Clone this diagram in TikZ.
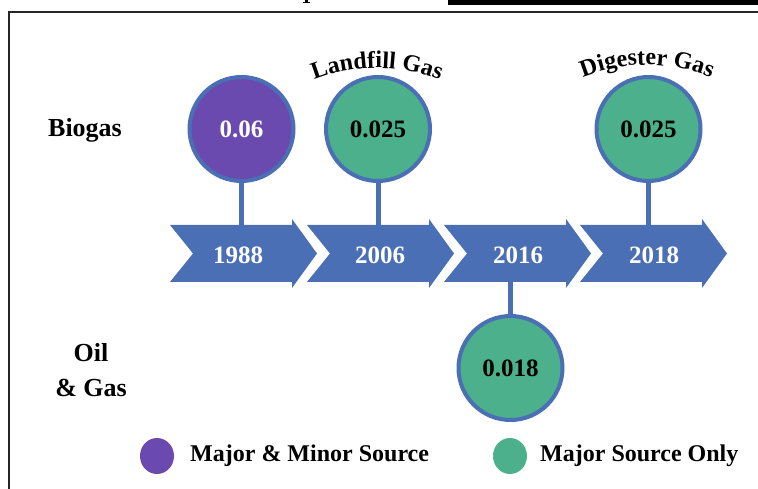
\documentclass[tikz,border=0pt]{standalone}
\usepackage{fontspec}
\setmainfont{Liberation Serif}
\usetikzlibrary{decorations.text,shapes.geometric}
\definecolor{tlblue}{HTML}{4A6FB5}
\definecolor{tlpurple}{HTML}{6A4AAE}
\definecolor{tlgreen}{HTML}{4BB08B}
\newcommand\mychevron[2]{%
  \fill[tlblue] (#1,225) -- ++(122,0) -- ++(0,-6) -- ++(25,34.5) -- ++(-25,34.5) -- ++(0,-6) -- ++(-122,0) -- ++(23,-28.5) -- cycle;
  \coordinate (#2) at (#1,225);}
\begin{document}
\begin{tikzpicture}[x=1pt,y=-1pt,
  val/.style={circle, draw=tlblue, line width=4pt, minimum size=104pt, inner sep=0pt, font=\fontsize{25}{30}\selectfont\bfseries},
  stem/.style={draw=tlblue, line width=5pt},
  yr/.style={text=white, font=\fontsize{25}{30}\selectfont\bfseries},
  lab/.style={font=\fontsize{26}{35}\selectfont\bfseries, align=center},
  leg/.style={font=\fontsize{24}{28}\selectfont\bfseries, anchor=west, inner sep=0pt},
  legdot/.style={ellipse, minimum width=34pt, minimum height=36pt, inner sep=0pt},
]
\useasboundingbox (0,0) rectangle (758,489);
\clip (0,0) rectangle (758,489);
% frame and top remnants
\draw[line width=2pt, black!85] (8.5,12.5) rectangle (800,520);
\fill[black] (448,0) rectangle (758,5);
\fill[black] (305,0) rectangle (307.5,3);
\fill[black] (302.5,2) rectangle (310,3.2);
% chevrons
\mychevron{170}{k1}
\mychevron{307}{k2}
\mychevron{444}{k3}
\mychevron{580}{k4}
\node[yr] (y1) at (238,255) {1988};
\node[yr] (y2) at (380,255) {2006};
\node[yr] (y3) at (518,255) {2016};
\node[yr] (y4) at (654,255) {2018};
% stems
\coordinate (s1) at (241.5,226);
\coordinate (s2) at (378,226);
\coordinate (s3) at (510.5,281);
\coordinate (s4) at (648.5,226);
% circles
\node[val, fill=tlpurple, text=white] (c1) at (241.5,129) {0.06};
\node[val, fill=tlgreen] (c2) at (378,129) {0.025};
\node[val, fill=tlgreen] (c3) at (510.5,368) {0.018};
\node[val, fill=tlgreen] (c4) at (648.5,129) {0.025};
\draw[stem] (c1.south) -- (s1);
\draw[stem] (c2.south) -- (s2);
\draw[stem] (c3.north) -- (s3);
\draw[stem] (c4.south) -- (s4);
% curved labels
\path[decorate, decoration={text along path, text align=center,
  text={|\fontsize{24}{28}\selectfont\bfseries|Landfill Gas}}]
  (377,238) ++(-125:170) arc[start angle=-125, end angle=-55, radius=170];
\path[decorate, decoration={text along path, text align=center,
  text={|\fontsize{24}{28}\selectfont\bfseries|Digester Gas}}]
  (647,235) ++(-125:170) arc[start angle=-125, end angle=-55, radius=170];
% row labels
\node[lab] (lb1) at (85,130) {Biogas};
\node[lab] (lb2) at (91,370) {Oil\\\& Gas};
% legend
\node[legdot, fill=tlpurple] (d1) at (157,456) {};
\node[leg] (t1) at (190,456) {Major \& Minor Source};
\node[legdot, fill=tlgreen] (d2) at (510,456) {};
\node[leg] (t2) at (540,456) {Major Source Only};
\end{tikzpicture}
\end{document}
